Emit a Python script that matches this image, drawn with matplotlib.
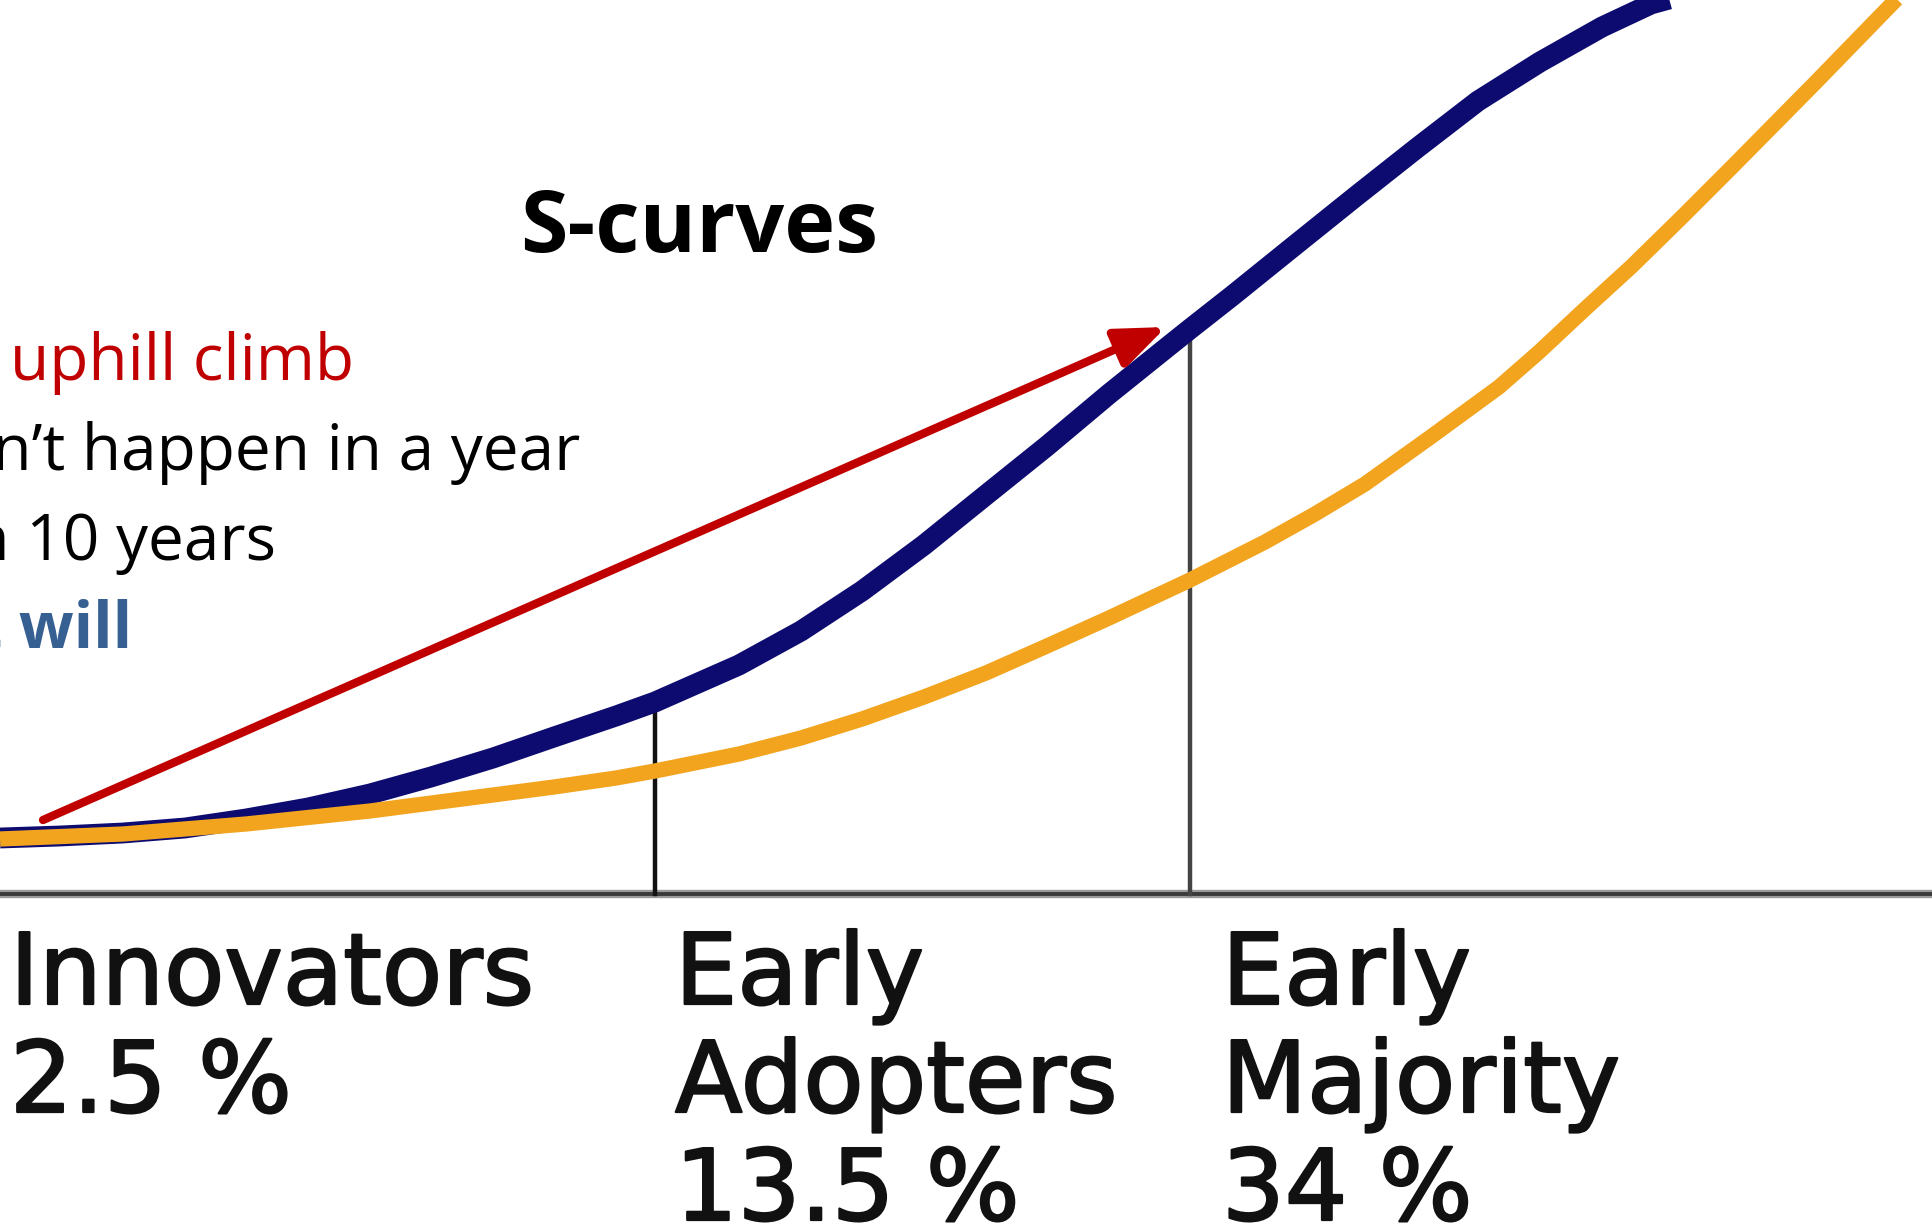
import numpy as np
import matplotlib.pyplot as plt
import matplotlib.patheffects as pe

# x = time, y = adoption (height above the baseline)
fast_t = [0, 60, 123, 185, 246, 308, 370, 431, 493, 554, 616, 655, 739, 801, 862,
          924, 986, 1047, 1109, 1170, 1190, 1232, 1294, 1355, 1417, 1478, 1540,
          1602, 1651, 1720, 1800]
fast_curve = [56, 58, 61, 66, 75, 86, 100, 117, 136, 157, 178, 192, 229, 263, 303,
              349, 399, 448, 500, 549, 565, 598, 648, 697, 746, 793, 832,
              867, 890, 909, 929]

slow_t = [0, 123, 246, 370, 493, 554, 616, 655, 739, 801, 862, 924, 986, 1047,
          1109, 1190, 1265, 1315, 1365, 1432, 1499, 1539, 1585, 1632, 1682, 1732,
          1815, 1885, 1932]
slow_curve = [55, 60, 70, 83, 99, 107, 116, 123, 140, 156, 175, 197, 221, 248,
              276, 314, 352, 380, 410, 458, 507, 542, 585, 628, 677, 727,
              811, 883, 931]

segment_starts = [0, 655, 1190]
segment_names = ["Innovators", "Early\nAdopters", "Early\nMajority"]
segment_shares = [2.5, 13.5, 34]

climb_from = (43, 74)
climb_to = (1166, 567)

fig = plt.figure(figsize=(19.32, 12.29), dpi=100)
ax = fig.add_axes([0, 0, 1, 1])
ax.set_xlim(0, 1932)
ax.set_ylim(-335, 894)
ax.axis('off')

# baseline
ax.axhline(0, color='#9a9a9a', lw=6, zorder=1)
ax.axhline(0, color='#3a3a3a', lw=2.8, zorder=1)

# segment boundaries up to the fast curve
for b, c in zip(segment_starts[1:], ['#111111', '#444444']):
    top = np.interp(b, fast_t, fast_curve)
    ax.plot([b, b], [0, top], color=c, lw=3.2, zorder=2)

ax.plot(fast_t, fast_curve, color='#0d0b70', lw=15, solid_joinstyle='round',
        solid_capstyle='butt', zorder=3)
ax.plot(slow_t, slow_curve, color='#f2a41e', lw=11, solid_joinstyle='round',
        solid_capstyle='butt', zorder=4)

ax.annotate('', xy=climb_to, xytext=climb_from,
            arrowprops=dict(arrowstyle='-|>,head_length=0.75,head_width=0.3',
                            mutation_scale=40, lw=6, color='#c00000',
                            shrinkA=0, shrinkB=0), zorder=5)

ax.text(699, 894 - 252, "S-curves", ha='center', va='baseline',
        fontsize=62, fontweight='bold', family='Open Sans')

notes = [("uphill climb", 354, 380, '#c00000', 'normal'),
         ("Won\u2019t happen in a year", 580, 470, 'black', 'normal'),
         ("or in 10 years", 276, 560, 'black', 'normal'),
         ("But it will", 132, 648, '#376092', 'bold')]
for txt, xr, yb, col, w in notes:
    ax.text(xr, 894 - yb, txt, ha='right', va='baseline', fontsize=46,
            color=col, fontweight=w, family='Open Sans')

# adopter categories under the axis
label_pad = [10, 20, 32]
for b, pad, name, share in zip(segment_starts, label_pad, segment_names, segment_shares):
    lines = name.split("\n") + [f"{share:g} %"]
    for j, line in enumerate(lines):
        ax.text(b + pad, -110 - 108 * j, line, ha='left', va='baseline',
                fontsize=71, family='DejaVu Sans', color='#111111',
                path_effects=[pe.withStroke(linewidth=1.6, foreground='#111111')])

fig.savefig('out.png', dpi=100)
